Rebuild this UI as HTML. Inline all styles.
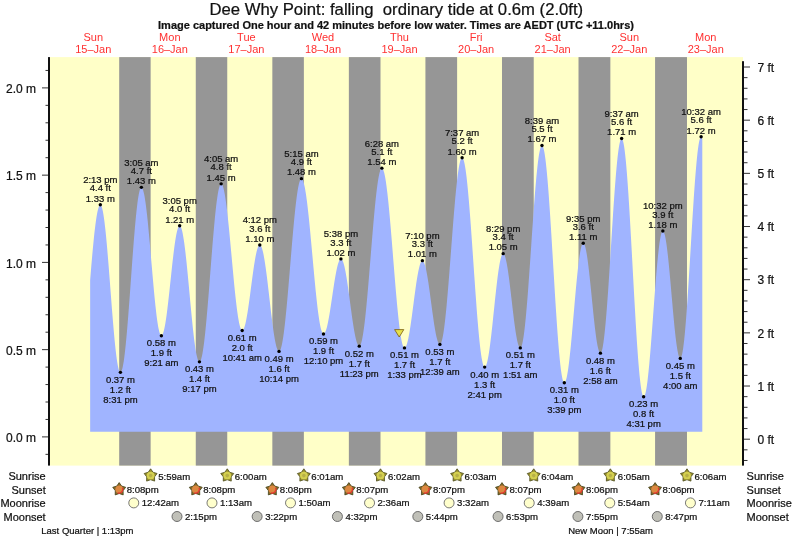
<!DOCTYPE html><html><head><meta charset="utf-8"><style>html,body{margin:0;padding:0;background:#fff;width:793px;height:539px;overflow:hidden}svg{display:block;will-change:transform}text{font-family:"Liberation Sans",sans-serif;fill:#111;stroke:#111;stroke-width:0.22px}</style></head><body>
<svg width="793" height="539" viewBox="0 0 793 539">
<text x="396.3" y="14.8" font-size="16.7" text-anchor="middle">Dee Why Point: falling &#160;ordinary tide at 0.6m (2.0ft)</text>
<text x="396" y="28.6" font-size="11" font-weight="bold" text-anchor="middle">Image captured One hour and 42 minutes before low water. Times are AEDT (UTC +11.0hrs)</text>
<rect x="50" y="57.1" width="693" height="408.5" fill="#ffffc8"/>
<rect x="119.20" y="57.1" width="31.43" height="408.5" fill="#969696"/>
<rect x="195.77" y="57.1" width="31.48" height="408.5" fill="#969696"/>
<rect x="272.34" y="57.1" width="31.53" height="408.5" fill="#969696"/>
<rect x="348.86" y="57.1" width="31.64" height="408.5" fill="#969696"/>
<rect x="425.42" y="57.1" width="31.69" height="408.5" fill="#969696"/>
<rect x="501.99" y="57.1" width="31.74" height="408.5" fill="#969696"/>
<rect x="578.51" y="57.1" width="31.85" height="408.5" fill="#969696"/>
<rect x="655.08" y="57.1" width="31.90" height="408.5" fill="#969696"/>
<polygon points="90.16,431.80 90.16,280.09 90.69,273.54 91.22,267.12 91.76,260.86 92.29,254.80 92.82,248.96 93.35,243.38 93.88,238.08 94.41,233.10 94.95,228.46 95.48,224.17 96.01,220.27 96.54,216.78 97.07,213.70 97.61,211.06 98.14,208.88 98.67,207.15 99.20,205.89 99.73,205.12 100.26,204.82 100.80,205.04 101.33,205.84 101.86,207.21 102.39,209.14 102.92,211.62 103.46,214.64 103.99,218.16 104.52,222.17 105.05,226.64 105.58,231.53 106.11,236.82 106.65,242.47 107.18,248.43 107.71,254.68 108.24,261.15 108.77,267.82 109.31,274.63 109.84,281.53 110.37,288.49 110.90,295.44 111.43,302.35 111.96,309.16 112.50,315.83 113.03,322.32 113.56,328.57 114.09,334.54 114.62,340.19 115.16,345.49 115.69,350.40 116.22,354.88 116.75,358.90 117.28,362.43 117.82,365.46 118.35,367.95 118.88,369.90 119.41,371.28 119.94,372.10 120.47,372.33 121.01,371.98 121.54,371.05 122.07,369.54 122.60,367.46 123.13,364.81 123.67,361.63 124.20,357.93 124.73,353.74 125.26,349.07 125.79,343.97 126.32,338.45 126.86,332.56 127.39,326.34 127.92,319.83 128.45,313.05 128.98,306.07 129.52,298.92 130.05,291.65 130.58,284.31 131.11,276.93 131.64,269.58 132.17,262.29 132.71,255.11 133.24,248.09 133.77,241.27 134.30,234.70 134.83,228.41 135.37,222.45 135.90,216.86 136.43,211.66 136.96,206.90 137.49,202.60 138.02,198.80 138.56,195.51 139.09,192.75 139.62,190.55 140.15,188.92 140.68,187.86 141.22,187.39 141.75,187.49 142.28,188.11 142.81,189.24 143.34,190.88 143.87,193.01 144.41,195.62 144.94,198.69 145.47,202.19 146.00,206.12 146.53,210.42 147.07,215.09 147.60,220.08 148.13,225.35 148.66,230.88 149.19,236.63 149.73,242.55 150.26,248.60 150.79,254.74 151.32,260.93 151.85,267.12 152.38,273.27 152.92,279.34 153.45,285.29 153.98,291.07 154.51,296.65 155.04,301.98 155.58,307.02 156.11,311.75 156.64,316.13 157.17,320.13 157.70,323.72 158.23,326.88 158.77,329.58 159.30,331.80 159.83,333.53 160.36,334.76 160.89,335.48 161.43,335.69 161.96,335.41 162.49,334.68 163.02,333.49 163.55,331.87 164.08,329.82 164.62,327.36 165.15,324.51 165.68,321.30 166.21,317.74 166.74,313.88 167.28,309.75 167.81,305.37 168.34,300.78 168.87,296.03 169.40,291.15 169.93,286.18 170.47,281.17 171.00,276.16 171.53,271.18 172.06,266.28 172.59,261.50 173.13,256.89 173.66,252.47 174.19,248.28 174.72,244.37 175.25,240.76 175.78,237.49 176.32,234.57 176.85,232.04 177.38,229.91 177.91,228.21 178.44,226.95 178.98,226.13 179.51,225.77 180.04,225.88 180.57,226.47 181.10,227.54 181.64,229.08 182.17,231.08 182.70,233.53 183.23,236.41 183.76,239.70 184.29,243.37 184.83,247.41 185.36,251.77 185.89,256.44 186.42,261.37 186.95,266.53 187.49,271.89 188.02,277.40 188.55,283.03 189.08,288.74 189.61,294.49 190.14,300.22 190.68,305.92 191.21,311.52 191.74,317.01 192.27,322.32 192.80,327.43 193.34,332.30 193.87,336.90 194.40,341.19 194.93,345.14 195.46,348.73 195.99,351.93 196.53,354.71 197.06,357.05 197.59,358.95 198.12,360.38 198.65,361.33 199.19,361.81 199.72,361.79 200.25,361.25 200.78,360.19 201.31,358.61 201.84,356.52 202.38,353.94 202.91,350.87 203.44,347.35 203.97,343.38 204.50,338.99 205.04,334.21 205.57,329.07 206.10,323.59 206.63,317.82 207.16,311.77 207.69,305.50 208.23,299.03 208.76,292.41 209.29,285.67 209.82,278.86 210.35,272.01 210.89,265.17 211.42,258.37 211.95,251.66 212.48,245.07 213.01,238.65 213.55,232.43 214.08,226.45 214.61,220.74 215.14,215.35 215.67,210.29 216.20,205.61 216.74,201.33 217.27,197.47 217.80,194.05 218.33,191.11 218.86,188.65 219.40,186.68 219.93,185.23 220.46,184.30 220.99,183.89 221.52,184.00 222.05,184.56 222.59,185.59 223.12,187.06 223.65,188.98 224.18,191.32 224.71,194.08 225.25,197.23 225.78,200.77 226.31,204.65 226.84,208.87 227.37,213.39 227.90,218.19 228.44,223.23 228.97,228.49 229.50,233.92 230.03,239.51 230.56,245.20 231.10,250.97 231.63,256.78 232.16,262.59 232.69,268.36 233.22,274.07 233.75,279.67 234.29,285.13 234.82,290.41 235.35,295.48 235.88,300.31 236.41,304.87 236.95,309.13 237.48,313.07 238.01,316.65 238.54,319.85 239.07,322.67 239.60,325.07 240.14,327.04 240.67,328.57 241.20,329.66 241.73,330.28 242.26,330.45 242.80,330.21 243.33,329.58 243.86,328.57 244.39,327.20 244.92,325.47 245.46,323.40 245.99,321.01 246.52,318.32 247.05,315.35 247.58,312.14 248.11,308.70 248.65,305.08 249.18,301.30 249.71,297.40 250.24,293.40 250.77,289.36 251.31,285.31 251.84,281.27 252.37,277.29 252.90,273.41 253.43,269.65 253.96,266.06 254.50,262.66 255.03,259.49 255.56,256.57 256.09,253.94 256.62,251.60 257.16,249.59 257.69,247.93 258.22,246.62 258.75,245.68 259.28,245.13 259.81,244.95 260.35,245.17 260.88,245.79 261.41,246.80 261.94,248.20 262.47,249.97 263.01,252.11 263.54,254.59 264.07,257.41 264.60,260.53 265.13,263.93 265.66,267.59 266.20,271.48 266.73,275.57 267.26,279.84 267.79,284.24 268.32,288.74 268.86,293.32 269.39,297.93 269.92,302.55 270.45,307.13 270.98,311.64 271.51,316.06 272.05,320.33 272.58,324.45 273.11,328.36 273.64,332.05 274.17,335.48 274.71,338.63 275.24,341.47 275.77,343.99 276.30,346.17 276.83,347.98 277.37,349.42 277.90,350.47 278.43,351.13 278.96,351.39 279.49,351.22 280.02,350.57 280.56,349.45 281.09,347.85 281.62,345.79 282.15,343.29 282.68,340.35 283.22,336.98 283.75,333.22 284.28,329.08 284.81,324.58 285.34,319.75 285.87,314.61 286.41,309.20 286.94,303.55 287.47,297.67 288.00,291.62 288.53,285.42 289.07,279.10 289.60,272.71 290.13,266.27 290.66,259.83 291.19,253.41 291.72,247.06 292.26,240.81 292.79,234.70 293.32,228.75 293.85,223.00 294.38,217.49 294.92,212.25 295.45,207.30 295.98,202.66 296.51,198.38 297.04,194.47 297.57,190.95 298.11,187.84 298.64,185.16 299.17,182.93 299.70,181.15 300.23,179.84 300.77,179.01 301.30,178.65 301.83,178.77 302.36,179.33 302.89,180.33 303.42,181.77 303.96,183.63 304.49,185.91 305.02,188.59 305.55,191.66 306.08,195.10 306.62,198.89 307.15,203.02 307.68,207.44 308.21,212.15 308.74,217.11 309.28,222.29 309.81,227.67 310.34,233.21 310.87,238.89 311.40,244.66 311.93,250.50 312.47,256.37 313.00,262.25 313.53,268.09 314.06,273.86 314.59,279.53 315.13,285.07 315.66,290.44 316.19,295.62 316.72,300.57 317.25,305.27 317.78,309.69 318.32,313.80 318.85,317.58 319.38,321.01 319.91,324.07 320.44,326.75 320.98,329.01 321.51,330.87 322.04,332.29 322.57,333.28 323.10,333.83 323.63,333.93 324.17,333.67 324.70,333.06 325.23,332.12 325.76,330.85 326.29,329.27 326.83,327.38 327.36,325.21 327.89,322.78 328.42,320.10 328.95,317.21 329.48,314.13 330.02,310.88 330.55,307.50 331.08,304.03 331.61,300.48 332.14,296.89 332.68,293.30 333.21,289.74 333.74,286.24 334.27,282.83 334.80,279.55 335.33,276.42 335.87,273.48 336.40,270.74 336.93,268.24 337.46,266.00 337.99,264.04 338.53,262.38 339.06,261.03 339.59,260.00 340.12,259.31 340.65,258.96 341.19,258.95 341.72,259.30 342.25,260.01 342.78,261.08 343.31,262.48 343.84,264.22 344.38,266.28 344.91,268.64 345.44,271.27 345.97,274.17 346.50,277.30 347.04,280.64 347.57,284.17 348.10,287.84 348.63,291.64 349.16,295.53 349.69,299.47 350.23,303.44 350.76,307.40 351.29,311.33 351.82,315.18 352.35,318.92 352.89,322.53 353.42,325.98 353.95,329.22 354.48,332.25 355.01,335.03 355.54,337.55 356.08,339.77 356.61,341.68 357.14,343.27 357.67,344.52 358.20,345.42 358.74,345.97 359.27,346.16 359.80,345.93 360.33,345.21 360.86,344.01 361.39,342.33 361.93,340.19 362.46,337.60 362.99,334.56 363.52,331.11 364.05,327.25 364.59,323.01 365.12,318.40 365.65,313.47 366.18,308.22 366.71,302.70 367.24,296.92 367.78,290.93 368.31,284.76 368.84,278.43 369.37,271.99 369.90,265.47 370.44,258.90 370.97,252.33 371.50,245.77 372.03,239.29 372.56,232.89 373.10,226.64 373.63,220.54 374.16,214.65 374.69,208.99 375.22,203.60 375.75,198.50 376.29,193.71 376.82,189.28 377.35,185.21 377.88,181.54 378.41,178.28 378.95,175.45 379.48,173.07 380.01,171.15 380.54,169.70 381.07,168.72 381.60,168.23 382.14,168.23 382.67,168.71 383.20,169.69 383.73,171.15 384.26,173.08 384.80,175.47 385.33,178.32 385.86,181.60 386.39,185.30 386.92,189.40 387.45,193.87 387.99,198.69 388.52,203.84 389.05,209.28 389.58,214.99 390.11,220.94 390.65,227.09 391.18,233.40 391.71,239.86 392.24,246.41 392.77,253.02 393.30,259.66 393.84,266.29 394.37,272.88 394.90,279.39 395.43,285.78 395.96,292.02 396.50,298.07 397.03,303.90 397.56,309.49 398.09,314.79 398.62,319.78 399.15,324.44 399.69,328.73 400.22,332.63 400.75,336.13 401.28,339.20 401.81,341.83 402.35,344.00 402.88,345.70 403.41,346.92 403.94,347.66 404.47,347.90 405.01,347.72 405.54,347.15 406.07,346.21 406.60,344.91 407.13,343.25 407.66,341.26 408.20,338.94 408.73,336.32 409.26,333.43 409.79,330.28 410.32,326.91 410.86,323.33 411.39,319.60 411.92,315.73 412.45,311.76 412.98,307.73 413.51,303.66 414.05,299.60 414.58,295.58 415.11,291.64 415.64,287.81 416.17,284.12 416.71,280.61 417.24,277.30 417.77,274.22 418.30,271.41 418.83,268.88 419.36,266.66 419.90,264.77 420.43,263.22 420.96,262.02 421.49,261.20 422.02,260.75 422.56,260.67 423.09,260.98 423.62,261.67 424.15,262.72 424.68,264.15 425.21,265.92 425.75,268.02 426.28,270.44 426.81,273.15 427.34,276.13 427.87,279.36 428.41,282.79 428.94,286.40 429.47,290.16 430.00,294.03 430.53,297.98 431.06,301.97 431.60,305.97 432.13,309.93 432.66,313.83 433.19,317.62 433.72,321.28 434.26,324.77 434.79,328.05 435.32,331.10 435.85,333.89 436.38,336.39 436.92,338.59 437.45,340.46 437.98,341.98 438.51,343.14 439.04,343.93 439.57,344.35 440.11,344.37 440.64,343.89 441.17,342.88 441.70,341.36 442.23,339.33 442.77,336.79 443.30,333.78 443.83,330.29 444.36,326.36 444.89,322.01 445.42,317.25 445.96,312.12 446.49,306.64 447.02,300.85 447.55,294.78 448.08,288.46 448.62,281.93 449.15,275.23 449.68,268.39 450.21,261.45 450.74,254.45 451.27,247.44 451.81,240.44 452.34,233.50 452.87,226.67 453.40,219.97 453.93,213.44 454.47,207.13 455.00,201.07 455.53,195.29 456.06,189.82 456.59,184.71 457.12,179.96 457.66,175.62 458.19,171.70 458.72,168.23 459.25,165.23 459.78,162.71 460.32,160.70 460.85,159.19 461.38,158.20 461.91,157.74 462.44,157.81 462.97,158.45 463.51,159.67 464.04,161.45 464.57,163.78 465.10,166.65 465.63,170.05 466.17,173.96 466.70,178.35 467.23,183.20 467.76,188.49 468.29,194.18 468.83,200.25 469.36,206.66 469.89,213.38 470.42,220.36 470.95,227.58 471.48,234.98 472.02,242.54 472.55,250.20 473.08,257.94 473.61,265.70 474.14,273.43 474.68,281.11 475.21,288.69 475.74,296.12 476.27,303.37 476.80,310.39 477.33,317.15 477.87,323.60 478.40,329.73 478.93,335.48 479.46,340.83 479.99,345.75 480.53,350.21 481.06,354.19 481.59,357.67 482.12,360.62 482.65,363.04 483.18,364.90 483.72,366.20 484.25,366.93 484.78,367.09 485.31,366.75 485.84,365.96 486.38,364.71 486.91,363.02 487.44,360.90 487.97,358.36 488.50,355.44 489.03,352.15 489.57,348.52 490.10,344.58 490.63,340.36 491.16,335.90 491.69,331.23 492.23,326.39 492.76,321.42 493.29,316.35 493.82,311.25 494.35,306.13 494.88,301.05 495.42,296.04 495.95,291.15 496.48,286.42 497.01,281.88 497.54,277.58 498.08,273.54 498.61,269.80 499.14,266.40 499.67,263.35 500.20,260.68 500.74,258.42 501.27,256.59 501.80,255.19 502.33,254.24 502.86,253.75 503.39,253.72 503.93,254.14 504.46,255.00 504.99,256.30 505.52,258.02 506.05,260.15 506.59,262.67 507.12,265.54 507.65,268.76 508.18,272.28 508.71,276.07 509.24,280.09 509.78,284.31 510.31,288.69 510.84,293.19 511.37,297.75 511.90,302.35 512.44,306.93 512.97,311.45 513.50,315.87 514.03,320.15 514.56,324.24 515.09,328.11 515.63,331.72 516.16,335.04 516.69,338.03 517.22,340.66 517.75,342.92 518.29,344.77 518.82,346.21 519.35,347.21 519.88,347.78 520.41,347.89 520.94,347.44 521.48,346.40 522.01,344.77 522.54,342.55 523.07,339.77 523.60,336.43 524.14,332.56 524.67,328.19 525.20,323.33 525.73,318.02 526.26,312.28 526.79,306.15 527.33,299.68 527.86,292.88 528.39,285.82 528.92,278.52 529.45,271.03 529.99,263.40 530.52,255.67 531.05,247.89 531.58,240.10 532.11,232.35 532.65,224.68 533.18,217.15 533.71,209.79 534.24,202.65 534.77,195.77 535.30,189.19 535.84,182.95 536.37,177.09 536.90,171.64 537.43,166.64 537.96,162.12 538.50,158.09 539.03,154.59 539.56,151.63 540.09,149.24 540.62,147.43 541.15,146.20 541.69,145.58 542.22,145.55 542.75,146.18 543.28,147.47 543.81,149.42 544.35,152.00 544.88,155.22 545.41,159.04 545.94,163.45 546.47,168.42 547.00,173.93 547.54,179.94 548.07,186.43 548.60,193.35 549.13,200.66 549.66,208.33 550.20,216.32 550.73,224.57 551.26,233.04 551.79,241.69 552.32,250.46 552.85,259.31 553.39,268.18 553.92,277.04 554.45,285.82 554.98,294.48 555.51,302.97 556.05,311.24 556.58,319.25 557.11,326.95 557.64,334.30 558.17,341.25 558.70,347.78 559.24,353.84 559.77,359.39 560.30,364.42 560.83,368.88 561.36,372.75 561.90,376.02 562.43,378.67 562.96,380.67 563.49,382.02 564.02,382.71 564.56,382.75 565.09,382.23 565.62,381.17 566.15,379.58 566.68,377.47 567.21,374.86 567.75,371.77 568.28,368.22 568.81,364.24 569.34,359.86 569.87,355.12 570.41,350.04 570.94,344.68 571.47,339.08 572.00,333.27 572.53,327.30 573.06,321.23 573.60,315.08 574.13,308.92 574.66,302.80 575.19,296.75 575.72,290.83 576.26,285.08 576.79,279.55 577.32,274.28 577.85,269.31 578.38,264.69 578.91,260.43 579.45,256.59 579.98,253.19 580.51,250.25 581.04,247.80 581.57,245.86 582.11,244.44 582.64,243.55 583.17,243.21 583.70,243.40 584.23,244.11 584.76,245.33 585.30,247.05 585.83,249.25 586.36,251.92 586.89,255.02 587.42,258.53 587.96,262.42 588.49,266.64 589.02,271.16 589.55,275.94 590.08,280.93 590.61,286.08 591.15,291.34 591.68,296.67 592.21,302.02 592.74,307.32 593.27,312.55 593.81,317.63 594.34,322.53 594.87,327.20 595.40,331.60 595.93,335.68 596.47,339.41 597.00,342.74 597.53,345.65 598.06,348.12 598.59,350.11 599.12,351.61 599.66,352.61 600.19,353.09 600.72,353.03 601.25,352.32 601.78,350.94 602.32,348.92 602.85,346.26 603.38,342.97 603.91,339.08 604.44,334.61 604.97,329.60 605.51,324.06 606.04,318.04 606.57,311.57 607.10,304.69 607.63,297.45 608.17,289.89 608.70,282.06 609.23,274.00 609.76,265.76 610.29,257.41 610.82,248.98 611.36,240.53 611.89,232.11 612.42,223.78 612.95,215.59 613.48,207.58 614.02,199.81 614.55,192.32 615.08,185.17 615.61,178.39 616.14,172.03 616.67,166.13 617.21,160.73 617.74,155.84 618.27,151.52 618.80,147.78 619.33,144.65 619.87,142.15 620.40,140.29 620.93,139.08 621.46,138.54 621.99,138.68 622.52,139.55 623.06,141.17 623.59,143.51 624.12,146.57 624.65,150.32 625.18,154.75 625.72,159.83 626.25,165.53 626.78,171.82 627.31,178.66 627.84,186.01 628.38,193.84 628.91,202.08 629.44,210.71 629.97,219.66 630.50,228.89 631.03,238.34 631.57,247.96 632.10,257.70 632.63,267.49 633.16,277.28 633.69,287.02 634.23,296.64 634.76,306.10 635.29,315.33 635.82,324.30 636.35,332.93 636.88,341.19 637.42,349.03 637.95,356.39 638.48,363.25 639.01,369.56 639.54,375.27 640.08,380.37 640.61,384.82 641.14,388.60 641.67,391.68 642.20,394.04 642.73,395.68 643.27,396.58 643.80,396.74 644.33,396.24 644.86,395.13 645.39,393.39 645.93,391.06 646.46,388.14 646.99,384.65 647.52,380.63 648.05,376.11 648.58,371.12 649.12,365.69 649.65,359.87 650.18,353.70 650.71,347.23 651.24,340.50 651.78,333.58 652.31,326.51 652.84,319.34 653.37,312.13 653.90,304.93 654.43,297.80 654.97,290.79 655.50,283.96 656.03,277.35 656.56,271.02 657.09,265.02 657.63,259.38 658.16,254.16 658.69,249.39 659.22,245.10 659.75,241.34 660.29,238.13 660.82,235.49 661.35,233.45 661.88,232.01 662.41,231.19 662.94,231.00 663.48,231.41 664.01,232.39 664.54,233.95 665.07,236.07 665.60,238.72 666.14,241.89 666.67,245.54 667.20,249.64 667.73,254.15 668.26,259.04 668.79,264.25 669.33,269.74 669.86,275.46 670.39,281.36 670.92,287.37 671.45,293.46 671.99,299.56 672.52,305.61 673.05,311.56 673.58,317.36 674.11,322.95 674.64,328.28 675.18,333.30 675.71,337.97 676.24,342.24 676.77,346.07 677.30,349.44 677.84,352.30 678.37,354.63 678.90,356.41 679.43,357.63 679.96,358.27 680.49,358.32 681.03,357.68 681.56,356.33 682.09,354.28 682.62,351.55 683.15,348.14 683.69,344.10 684.22,339.43 684.75,334.17 685.28,328.36 685.81,322.03 686.34,315.22 686.88,307.98 687.41,300.34 687.94,292.37 688.47,284.11 689.00,275.62 689.54,266.95 690.07,258.15 690.60,249.28 691.13,240.41 691.66,231.58 692.20,222.85 692.73,214.28 693.26,205.92 693.79,197.83 694.32,190.06 694.85,182.66 695.39,175.68 695.92,169.16 696.45,163.14 696.98,157.67 697.51,152.77 698.05,148.48 698.58,144.83 699.11,141.83 699.64,139.52 700.17,137.90 700.70,136.98 701.24,136.78 701.77,137.41 702.30,138.92 702.30,431.80" fill="#a0b4ff"/>
<rect x="48" y="57.1" width="2" height="408.5" fill="#111"/>
<rect x="742" y="61.2" width="2" height="404.40000000000003" fill="#111"/>
<line x1="45.5" y1="454.35" x2="48" y2="454.35" stroke="#333" stroke-width="1"/>
<line x1="42" y1="436.90" x2="48" y2="436.90" stroke="#333" stroke-width="1"/>
<text x="36.1" y="442.00" font-size="12" text-anchor="end">0.0 m</text>
<line x1="45.5" y1="419.45" x2="48" y2="419.45" stroke="#333" stroke-width="1"/>
<line x1="45.5" y1="402.00" x2="48" y2="402.00" stroke="#333" stroke-width="1"/>
<line x1="45.5" y1="384.55" x2="48" y2="384.55" stroke="#333" stroke-width="1"/>
<line x1="45.5" y1="367.10" x2="48" y2="367.10" stroke="#333" stroke-width="1"/>
<line x1="42" y1="349.65" x2="48" y2="349.65" stroke="#333" stroke-width="1"/>
<text x="36.1" y="354.75" font-size="12" text-anchor="end">0.5 m</text>
<line x1="45.5" y1="332.20" x2="48" y2="332.20" stroke="#333" stroke-width="1"/>
<line x1="45.5" y1="314.75" x2="48" y2="314.75" stroke="#333" stroke-width="1"/>
<line x1="45.5" y1="297.30" x2="48" y2="297.30" stroke="#333" stroke-width="1"/>
<line x1="45.5" y1="279.85" x2="48" y2="279.85" stroke="#333" stroke-width="1"/>
<line x1="42" y1="262.40" x2="48" y2="262.40" stroke="#333" stroke-width="1"/>
<text x="36.1" y="267.50" font-size="12" text-anchor="end">1.0 m</text>
<line x1="45.5" y1="244.95" x2="48" y2="244.95" stroke="#333" stroke-width="1"/>
<line x1="45.5" y1="227.50" x2="48" y2="227.50" stroke="#333" stroke-width="1"/>
<line x1="45.5" y1="210.05" x2="48" y2="210.05" stroke="#333" stroke-width="1"/>
<line x1="45.5" y1="192.60" x2="48" y2="192.60" stroke="#333" stroke-width="1"/>
<line x1="42" y1="175.15" x2="48" y2="175.15" stroke="#333" stroke-width="1"/>
<text x="36.1" y="180.25" font-size="12" text-anchor="end">1.5 m</text>
<line x1="45.5" y1="157.70" x2="48" y2="157.70" stroke="#333" stroke-width="1"/>
<line x1="45.5" y1="140.25" x2="48" y2="140.25" stroke="#333" stroke-width="1"/>
<line x1="45.5" y1="122.80" x2="48" y2="122.80" stroke="#333" stroke-width="1"/>
<line x1="45.5" y1="105.35" x2="48" y2="105.35" stroke="#333" stroke-width="1"/>
<line x1="42" y1="87.90" x2="48" y2="87.90" stroke="#333" stroke-width="1"/>
<text x="36.1" y="93.00" font-size="12" text-anchor="end">2.0 m</text>
<line x1="45.5" y1="70.45" x2="48" y2="70.45" stroke="#333" stroke-width="1"/>
<line x1="744" y1="460.47" x2="747.5" y2="460.47" stroke="#333" stroke-width="1"/>
<line x1="744" y1="449.83" x2="747.5" y2="449.83" stroke="#333" stroke-width="1"/>
<line x1="744" y1="439.20" x2="750" y2="439.20" stroke="#333" stroke-width="1"/>
<text x="757.5" y="443.90" font-size="12">0 ft</text>
<line x1="744" y1="428.57" x2="747.5" y2="428.57" stroke="#333" stroke-width="1"/>
<line x1="744" y1="417.93" x2="747.5" y2="417.93" stroke="#333" stroke-width="1"/>
<line x1="744" y1="407.30" x2="747.5" y2="407.30" stroke="#333" stroke-width="1"/>
<line x1="744" y1="396.66" x2="747.5" y2="396.66" stroke="#333" stroke-width="1"/>
<line x1="744" y1="386.03" x2="750" y2="386.03" stroke="#333" stroke-width="1"/>
<text x="757.5" y="390.73" font-size="12">1 ft</text>
<line x1="744" y1="375.40" x2="747.5" y2="375.40" stroke="#333" stroke-width="1"/>
<line x1="744" y1="364.76" x2="747.5" y2="364.76" stroke="#333" stroke-width="1"/>
<line x1="744" y1="354.13" x2="747.5" y2="354.13" stroke="#333" stroke-width="1"/>
<line x1="744" y1="343.49" x2="747.5" y2="343.49" stroke="#333" stroke-width="1"/>
<line x1="744" y1="332.86" x2="750" y2="332.86" stroke="#333" stroke-width="1"/>
<text x="757.5" y="337.56" font-size="12">2 ft</text>
<line x1="744" y1="322.23" x2="747.5" y2="322.23" stroke="#333" stroke-width="1"/>
<line x1="744" y1="311.59" x2="747.5" y2="311.59" stroke="#333" stroke-width="1"/>
<line x1="744" y1="300.96" x2="747.5" y2="300.96" stroke="#333" stroke-width="1"/>
<line x1="744" y1="290.32" x2="747.5" y2="290.32" stroke="#333" stroke-width="1"/>
<line x1="744" y1="279.69" x2="750" y2="279.69" stroke="#333" stroke-width="1"/>
<text x="757.5" y="284.39" font-size="12">3 ft</text>
<line x1="744" y1="269.06" x2="747.5" y2="269.06" stroke="#333" stroke-width="1"/>
<line x1="744" y1="258.42" x2="747.5" y2="258.42" stroke="#333" stroke-width="1"/>
<line x1="744" y1="247.79" x2="747.5" y2="247.79" stroke="#333" stroke-width="1"/>
<line x1="744" y1="237.15" x2="747.5" y2="237.15" stroke="#333" stroke-width="1"/>
<line x1="744" y1="226.52" x2="750" y2="226.52" stroke="#333" stroke-width="1"/>
<text x="757.5" y="231.22" font-size="12">4 ft</text>
<line x1="744" y1="215.89" x2="747.5" y2="215.89" stroke="#333" stroke-width="1"/>
<line x1="744" y1="205.25" x2="747.5" y2="205.25" stroke="#333" stroke-width="1"/>
<line x1="744" y1="194.62" x2="747.5" y2="194.62" stroke="#333" stroke-width="1"/>
<line x1="744" y1="183.98" x2="747.5" y2="183.98" stroke="#333" stroke-width="1"/>
<line x1="744" y1="173.35" x2="750" y2="173.35" stroke="#333" stroke-width="1"/>
<text x="757.5" y="178.05" font-size="12">5 ft</text>
<line x1="744" y1="162.72" x2="747.5" y2="162.72" stroke="#333" stroke-width="1"/>
<line x1="744" y1="152.08" x2="747.5" y2="152.08" stroke="#333" stroke-width="1"/>
<line x1="744" y1="141.45" x2="747.5" y2="141.45" stroke="#333" stroke-width="1"/>
<line x1="744" y1="130.81" x2="747.5" y2="130.81" stroke="#333" stroke-width="1"/>
<line x1="744" y1="120.18" x2="750" y2="120.18" stroke="#333" stroke-width="1"/>
<text x="757.5" y="124.88" font-size="12">6 ft</text>
<line x1="744" y1="109.55" x2="747.5" y2="109.55" stroke="#333" stroke-width="1"/>
<line x1="744" y1="98.91" x2="747.5" y2="98.91" stroke="#333" stroke-width="1"/>
<line x1="744" y1="88.28" x2="747.5" y2="88.28" stroke="#333" stroke-width="1"/>
<line x1="744" y1="77.64" x2="747.5" y2="77.64" stroke="#333" stroke-width="1"/>
<line x1="744" y1="67.01" x2="750" y2="67.01" stroke="#333" stroke-width="1"/>
<text x="757.5" y="71.71" font-size="12">7 ft</text>
<text x="93.25" y="41.1" font-size="11" fill="#ff3030" style="fill:#ff3030;stroke:none" text-anchor="middle">Sun</text>
<text x="93.25" y="52.7" font-size="11" fill="#ff3030" style="fill:#ff3030;stroke:none" text-anchor="middle">15–Jan</text>
<text x="169.82" y="41.1" font-size="11" fill="#ff3030" style="fill:#ff3030;stroke:none" text-anchor="middle">Mon</text>
<text x="169.82" y="52.7" font-size="11" fill="#ff3030" style="fill:#ff3030;stroke:none" text-anchor="middle">16–Jan</text>
<text x="246.39" y="41.1" font-size="11" fill="#ff3030" style="fill:#ff3030;stroke:none" text-anchor="middle">Tue</text>
<text x="246.39" y="52.7" font-size="11" fill="#ff3030" style="fill:#ff3030;stroke:none" text-anchor="middle">17–Jan</text>
<text x="322.96" y="41.1" font-size="11" fill="#ff3030" style="fill:#ff3030;stroke:none" text-anchor="middle">Wed</text>
<text x="322.96" y="52.7" font-size="11" fill="#ff3030" style="fill:#ff3030;stroke:none" text-anchor="middle">18–Jan</text>
<text x="399.53" y="41.1" font-size="11" fill="#ff3030" style="fill:#ff3030;stroke:none" text-anchor="middle">Thu</text>
<text x="399.53" y="52.7" font-size="11" fill="#ff3030" style="fill:#ff3030;stroke:none" text-anchor="middle">19–Jan</text>
<text x="476.10" y="41.1" font-size="11" fill="#ff3030" style="fill:#ff3030;stroke:none" text-anchor="middle">Fri</text>
<text x="476.10" y="52.7" font-size="11" fill="#ff3030" style="fill:#ff3030;stroke:none" text-anchor="middle">20–Jan</text>
<text x="552.67" y="41.1" font-size="11" fill="#ff3030" style="fill:#ff3030;stroke:none" text-anchor="middle">Sat</text>
<text x="552.67" y="52.7" font-size="11" fill="#ff3030" style="fill:#ff3030;stroke:none" text-anchor="middle">21–Jan</text>
<text x="629.23" y="41.1" font-size="11" fill="#ff3030" style="fill:#ff3030;stroke:none" text-anchor="middle">Sun</text>
<text x="629.23" y="52.7" font-size="11" fill="#ff3030" style="fill:#ff3030;stroke:none" text-anchor="middle">22–Jan</text>
<text x="705.80" y="41.1" font-size="11" fill="#ff3030" style="fill:#ff3030;stroke:none" text-anchor="middle">Mon</text>
<text x="705.80" y="52.7" font-size="11" fill="#ff3030" style="fill:#ff3030;stroke:none" text-anchor="middle">23–Jan</text>
<text x="100.33" y="183.31" font-size="9.5" text-anchor="middle">2:13 pm</text>
<text x="100.33" y="191.41" font-size="9.5" text-anchor="middle">4.4 ft</text>
<text x="100.33" y="201.61" font-size="9.5" text-anchor="middle">1.33 m</text>
<circle cx="100.33" cy="204.81" r="1.7" fill="#000"/>
<text x="120.43" y="382.73" font-size="9.5" text-anchor="middle">0.37 m</text>
<text x="120.43" y="392.73" font-size="9.5" text-anchor="middle">1.2 ft</text>
<text x="120.43" y="402.73" font-size="9.5" text-anchor="middle">8:31 pm</text>
<circle cx="120.43" cy="372.33" r="1.7" fill="#000"/>
<text x="141.38" y="165.86" font-size="9.5" text-anchor="middle">3:05 am</text>
<text x="141.38" y="173.96" font-size="9.5" text-anchor="middle">4.7 ft</text>
<text x="141.38" y="184.16" font-size="9.5" text-anchor="middle">1.43 m</text>
<circle cx="141.38" cy="187.36" r="1.7" fill="#000"/>
<text x="161.37" y="346.09" font-size="9.5" text-anchor="middle">0.58 m</text>
<text x="161.37" y="356.09" font-size="9.5" text-anchor="middle">1.9 ft</text>
<text x="161.37" y="366.09" font-size="9.5" text-anchor="middle">9:21 am</text>
<circle cx="161.37" cy="335.69" r="1.7" fill="#000"/>
<text x="179.66" y="204.25" font-size="9.5" text-anchor="middle">3:05 pm</text>
<text x="179.66" y="212.35" font-size="9.5" text-anchor="middle">4.0 ft</text>
<text x="179.66" y="222.56" font-size="9.5" text-anchor="middle">1.21 m</text>
<circle cx="179.66" cy="225.75" r="1.7" fill="#000"/>
<text x="199.44" y="372.26" font-size="9.5" text-anchor="middle">0.43 m</text>
<text x="199.44" y="382.26" font-size="9.5" text-anchor="middle">1.4 ft</text>
<text x="199.44" y="392.26" font-size="9.5" text-anchor="middle">9:17 pm</text>
<circle cx="199.44" cy="361.87" r="1.7" fill="#000"/>
<text x="221.13" y="162.37" font-size="9.5" text-anchor="middle">4:05 am</text>
<text x="221.13" y="170.47" font-size="9.5" text-anchor="middle">4.8 ft</text>
<text x="221.13" y="180.67" font-size="9.5" text-anchor="middle">1.45 m</text>
<circle cx="221.13" cy="183.87" r="1.7" fill="#000"/>
<text x="242.19" y="340.85" font-size="9.5" text-anchor="middle">0.61 m</text>
<text x="242.19" y="350.85" font-size="9.5" text-anchor="middle">2.0 ft</text>
<text x="242.19" y="360.85" font-size="9.5" text-anchor="middle">10:41 am</text>
<circle cx="242.19" cy="330.45" r="1.7" fill="#000"/>
<text x="259.79" y="223.45" font-size="9.5" text-anchor="middle">4:12 pm</text>
<text x="259.79" y="231.55" font-size="9.5" text-anchor="middle">3.6 ft</text>
<text x="259.79" y="241.75" font-size="9.5" text-anchor="middle">1.10 m</text>
<circle cx="259.79" cy="244.95" r="1.7" fill="#000"/>
<text x="279.04" y="361.79" font-size="9.5" text-anchor="middle">0.49 m</text>
<text x="279.04" y="371.79" font-size="9.5" text-anchor="middle">1.6 ft</text>
<text x="279.04" y="381.79" font-size="9.5" text-anchor="middle">10:14 pm</text>
<circle cx="279.04" cy="351.39" r="1.7" fill="#000"/>
<text x="301.43" y="157.14" font-size="9.5" text-anchor="middle">5:15 am</text>
<text x="301.43" y="165.24" font-size="9.5" text-anchor="middle">4.9 ft</text>
<text x="301.43" y="175.44" font-size="9.5" text-anchor="middle">1.48 m</text>
<circle cx="301.43" cy="178.64" r="1.7" fill="#000"/>
<text x="323.49" y="344.34" font-size="9.5" text-anchor="middle">0.59 m</text>
<text x="323.49" y="354.34" font-size="9.5" text-anchor="middle">1.9 ft</text>
<text x="323.49" y="364.34" font-size="9.5" text-anchor="middle">12:10 pm</text>
<circle cx="323.49" cy="333.94" r="1.7" fill="#000"/>
<text x="340.93" y="237.41" font-size="9.5" text-anchor="middle">5:38 pm</text>
<text x="340.93" y="245.51" font-size="9.5" text-anchor="middle">3.3 ft</text>
<text x="340.93" y="255.71" font-size="9.5" text-anchor="middle">1.02 m</text>
<circle cx="340.93" cy="258.91" r="1.7" fill="#000"/>
<text x="359.28" y="356.56" font-size="9.5" text-anchor="middle">0.52 m</text>
<text x="359.28" y="366.56" font-size="9.5" text-anchor="middle">1.7 ft</text>
<text x="359.28" y="376.56" font-size="9.5" text-anchor="middle">11:23 pm</text>
<circle cx="359.28" cy="346.16" r="1.7" fill="#000"/>
<text x="381.88" y="146.67" font-size="9.5" text-anchor="middle">6:28 am</text>
<text x="381.88" y="154.77" font-size="9.5" text-anchor="middle">5.1 ft</text>
<text x="381.88" y="164.97" font-size="9.5" text-anchor="middle">1.54 m</text>
<circle cx="381.88" cy="168.17" r="1.7" fill="#000"/>
<text x="404.47" y="358.30" font-size="9.5" text-anchor="middle">0.51 m</text>
<text x="404.47" y="368.30" font-size="9.5" text-anchor="middle">1.7 ft</text>
<text x="404.47" y="378.30" font-size="9.5" text-anchor="middle">1:33 pm</text>
<circle cx="404.47" cy="347.90" r="1.7" fill="#000"/>
<text x="422.39" y="239.15" font-size="9.5" text-anchor="middle">7:10 pm</text>
<text x="422.39" y="247.25" font-size="9.5" text-anchor="middle">3.3 ft</text>
<text x="422.39" y="257.45" font-size="9.5" text-anchor="middle">1.01 m</text>
<circle cx="422.39" cy="260.65" r="1.7" fill="#000"/>
<text x="439.89" y="354.81" font-size="9.5" text-anchor="middle">0.53 m</text>
<text x="439.89" y="364.81" font-size="9.5" text-anchor="middle">1.7 ft</text>
<text x="439.89" y="374.81" font-size="9.5" text-anchor="middle">12:39 am</text>
<circle cx="439.89" cy="344.41" r="1.7" fill="#000"/>
<text x="462.11" y="136.20" font-size="9.5" text-anchor="middle">7:37 am</text>
<text x="462.11" y="144.30" font-size="9.5" text-anchor="middle">5.2 ft</text>
<text x="462.11" y="154.50" font-size="9.5" text-anchor="middle">1.60 m</text>
<circle cx="462.11" cy="157.70" r="1.7" fill="#000"/>
<text x="484.66" y="377.50" font-size="9.5" text-anchor="middle">0.40 m</text>
<text x="484.66" y="387.50" font-size="9.5" text-anchor="middle">1.3 ft</text>
<text x="484.66" y="397.50" font-size="9.5" text-anchor="middle">2:41 pm</text>
<circle cx="484.66" cy="367.10" r="1.7" fill="#000"/>
<text x="503.16" y="232.17" font-size="9.5" text-anchor="middle">8:29 pm</text>
<text x="503.16" y="240.27" font-size="9.5" text-anchor="middle">3.4 ft</text>
<text x="503.16" y="250.47" font-size="9.5" text-anchor="middle">1.05 m</text>
<circle cx="503.16" cy="253.67" r="1.7" fill="#000"/>
<text x="520.28" y="358.30" font-size="9.5" text-anchor="middle">0.51 m</text>
<text x="520.28" y="368.30" font-size="9.5" text-anchor="middle">1.7 ft</text>
<text x="520.28" y="378.30" font-size="9.5" text-anchor="middle">1:51 am</text>
<circle cx="520.28" cy="347.90" r="1.7" fill="#000"/>
<text x="541.98" y="123.99" font-size="9.5" text-anchor="middle">8:39 am</text>
<text x="541.98" y="132.09" font-size="9.5" text-anchor="middle">5.5 ft</text>
<text x="541.98" y="142.29" font-size="9.5" text-anchor="middle">1.67 m</text>
<circle cx="541.98" cy="145.49" r="1.7" fill="#000"/>
<text x="564.31" y="393.20" font-size="9.5" text-anchor="middle">0.31 m</text>
<text x="564.31" y="403.20" font-size="9.5" text-anchor="middle">1.0 ft</text>
<text x="564.31" y="413.20" font-size="9.5" text-anchor="middle">3:39 pm</text>
<circle cx="564.31" cy="382.80" r="1.7" fill="#000"/>
<text x="583.24" y="221.70" font-size="9.5" text-anchor="middle">9:35 pm</text>
<text x="583.24" y="229.80" font-size="9.5" text-anchor="middle">3.6 ft</text>
<text x="583.24" y="240.00" font-size="9.5" text-anchor="middle">1.11 m</text>
<circle cx="583.24" cy="243.20" r="1.7" fill="#000"/>
<text x="600.42" y="363.54" font-size="9.5" text-anchor="middle">0.48 m</text>
<text x="600.42" y="373.54" font-size="9.5" text-anchor="middle">1.6 ft</text>
<text x="600.42" y="383.54" font-size="9.5" text-anchor="middle">2:58 am</text>
<circle cx="600.42" cy="353.14" r="1.7" fill="#000"/>
<text x="621.63" y="117.00" font-size="9.5" text-anchor="middle">9:37 am</text>
<text x="621.63" y="125.10" font-size="9.5" text-anchor="middle">5.6 ft</text>
<text x="621.63" y="135.31" font-size="9.5" text-anchor="middle">1.71 m</text>
<circle cx="621.63" cy="138.50" r="1.7" fill="#000"/>
<text x="643.64" y="407.16" font-size="9.5" text-anchor="middle">0.23 m</text>
<text x="643.64" y="417.16" font-size="9.5" text-anchor="middle">0.8 ft</text>
<text x="643.64" y="427.16" font-size="9.5" text-anchor="middle">4:31 pm</text>
<circle cx="643.64" cy="396.76" r="1.7" fill="#000"/>
<text x="662.84" y="209.49" font-size="9.5" text-anchor="middle">10:32 pm</text>
<text x="662.84" y="217.59" font-size="9.5" text-anchor="middle">3.9 ft</text>
<text x="662.84" y="227.79" font-size="9.5" text-anchor="middle">1.18 m</text>
<circle cx="662.84" cy="230.99" r="1.7" fill="#000"/>
<text x="680.28" y="368.77" font-size="9.5" text-anchor="middle">0.45 m</text>
<text x="680.28" y="378.77" font-size="9.5" text-anchor="middle">1.5 ft</text>
<text x="680.28" y="388.77" font-size="9.5" text-anchor="middle">4:00 am</text>
<circle cx="680.28" cy="358.38" r="1.7" fill="#000"/>
<text x="701.12" y="115.26" font-size="9.5" text-anchor="middle">10:32 am</text>
<text x="701.12" y="123.36" font-size="9.5" text-anchor="middle">5.6 ft</text>
<text x="701.12" y="133.56" font-size="9.5" text-anchor="middle">1.72 m</text>
<circle cx="701.12" cy="136.76" r="1.7" fill="#000"/>
<polygon points="394.6,329.6 403.8,329.6 399.2,337" fill="#e6e04a" stroke="#7a5a10" stroke-width="0.8"/>
<text x="45.7" y="480.1" font-size="11" text-anchor="end">Sunrise</text>
<text x="746.6" y="480.1" font-size="11">Sunrise</text>
<text x="45.7" y="493.8" font-size="11" text-anchor="end">Sunset</text>
<text x="746.6" y="493.8" font-size="11">Sunset</text>
<text x="45.7" y="507.2" font-size="11" text-anchor="end">Moonrise</text>
<text x="746.6" y="507.2" font-size="11">Moonrise</text>
<text x="45.7" y="521.1" font-size="11" text-anchor="end">Moonset</text>
<text x="746.6" y="521.1" font-size="11">Moonset</text>
<polygon points="150.63,468.80 153.04,472.28 157.09,473.50 154.53,476.87 154.62,481.10 150.63,479.70 146.63,481.10 146.73,476.87 144.16,473.50 148.22,472.28" fill="#9a9030" stroke="#4a4a18" stroke-width="0.8" stroke-linejoin="miter"/>
<circle cx="150.63" cy="475.6" r="3.9" fill="#d4d050"/>
<circle cx="150.63" cy="475.6" r="1.8" fill="#b8b048"/>
<text x="158.13" y="479.5" font-size="9.6">5:59am</text>
<polygon points="227.25,468.80 229.66,472.28 233.72,473.50 231.15,476.87 231.25,481.10 227.25,479.70 223.25,481.10 223.35,476.87 220.78,473.50 224.84,472.28" fill="#9a9030" stroke="#4a4a18" stroke-width="0.8" stroke-linejoin="miter"/>
<circle cx="227.25" cy="475.6" r="3.9" fill="#d4d050"/>
<circle cx="227.25" cy="475.6" r="1.8" fill="#b8b048"/>
<text x="234.75" y="479.5" font-size="9.6">6:00am</text>
<polygon points="303.87,468.80 306.28,472.28 310.34,473.50 307.77,476.87 307.87,481.10 303.87,479.70 299.87,481.10 299.97,476.87 297.40,473.50 301.46,472.28" fill="#9a9030" stroke="#4a4a18" stroke-width="0.8" stroke-linejoin="miter"/>
<circle cx="303.87" cy="475.6" r="3.9" fill="#d4d050"/>
<circle cx="303.87" cy="475.6" r="1.8" fill="#b8b048"/>
<text x="311.37" y="479.5" font-size="9.6">6:01am</text>
<polygon points="380.49,468.80 382.90,472.28 386.96,473.50 384.39,476.87 384.49,481.10 380.49,479.70 376.50,481.10 376.59,476.87 374.03,473.50 378.08,472.28" fill="#9a9030" stroke="#4a4a18" stroke-width="0.8" stroke-linejoin="miter"/>
<circle cx="380.49" cy="475.6" r="3.9" fill="#d4d050"/>
<circle cx="380.49" cy="475.6" r="1.8" fill="#b8b048"/>
<text x="387.99" y="479.5" font-size="9.6">6:02am</text>
<polygon points="457.11,468.80 459.52,472.28 463.58,473.50 461.01,476.87 461.11,481.10 457.11,479.70 453.12,481.10 453.22,476.87 450.65,473.50 454.70,472.28" fill="#9a9030" stroke="#4a4a18" stroke-width="0.8" stroke-linejoin="miter"/>
<circle cx="457.11" cy="475.6" r="3.9" fill="#d4d050"/>
<circle cx="457.11" cy="475.6" r="1.8" fill="#b8b048"/>
<text x="464.61" y="479.5" font-size="9.6">6:03am</text>
<polygon points="533.74,468.80 536.15,472.28 540.20,473.50 537.64,476.87 537.73,481.10 533.74,479.70 529.74,481.10 529.84,476.87 527.27,473.50 531.33,472.28" fill="#9a9030" stroke="#4a4a18" stroke-width="0.8" stroke-linejoin="miter"/>
<circle cx="533.74" cy="475.6" r="3.9" fill="#d4d050"/>
<circle cx="533.74" cy="475.6" r="1.8" fill="#b8b048"/>
<text x="541.24" y="479.5" font-size="9.6">6:04am</text>
<polygon points="610.36,468.80 612.77,472.28 616.83,473.50 614.26,476.87 614.36,481.10 610.36,479.70 606.36,481.10 606.46,476.87 603.89,473.50 607.95,472.28" fill="#9a9030" stroke="#4a4a18" stroke-width="0.8" stroke-linejoin="miter"/>
<circle cx="610.36" cy="475.6" r="3.9" fill="#d4d050"/>
<circle cx="610.36" cy="475.6" r="1.8" fill="#b8b048"/>
<text x="617.86" y="479.5" font-size="9.6">6:05am</text>
<polygon points="686.98,468.80 689.39,472.28 693.45,473.50 690.88,476.87 690.98,481.10 686.98,479.70 682.98,481.10 683.08,476.87 680.51,473.50 684.57,472.28" fill="#9a9030" stroke="#4a4a18" stroke-width="0.8" stroke-linejoin="miter"/>
<circle cx="686.98" cy="475.6" r="3.9" fill="#d4d050"/>
<circle cx="686.98" cy="475.6" r="1.8" fill="#b8b048"/>
<text x="694.48" y="479.5" font-size="9.6">6:06am</text>
<polygon points="119.20,482.60 121.61,486.08 125.67,487.30 123.10,490.67 123.20,494.90 119.20,493.50 115.21,494.90 115.30,490.67 112.74,487.30 116.79,486.08" fill="#8a6a28" stroke="#404018" stroke-width="0.8" stroke-linejoin="miter"/>
<circle cx="119.20" cy="489.4" r="3.8" fill="#dc8840"/>
<path d="M122.50,487.80 A3.8,3.8 0 0 1 117.70,492.90" fill="none" stroke="#e83030" stroke-width="1.2"/>
<text x="126.70" y="493.2" font-size="9.6">8:08pm</text>
<polygon points="195.77,482.60 198.18,486.08 202.24,487.30 199.67,490.67 199.77,494.90 195.77,493.50 191.77,494.90 191.87,490.67 189.30,487.30 193.36,486.08" fill="#8a6a28" stroke="#404018" stroke-width="0.8" stroke-linejoin="miter"/>
<circle cx="195.77" cy="489.4" r="3.8" fill="#dc8840"/>
<path d="M199.07,487.80 A3.8,3.8 0 0 1 194.27,492.90" fill="none" stroke="#e83030" stroke-width="1.2"/>
<text x="203.27" y="493.2" font-size="9.6">8:08pm</text>
<polygon points="272.34,482.60 274.75,486.08 278.81,487.30 276.24,490.67 276.34,494.90 272.34,493.50 268.34,494.90 268.44,490.67 265.87,487.30 269.93,486.08" fill="#8a6a28" stroke="#404018" stroke-width="0.8" stroke-linejoin="miter"/>
<circle cx="272.34" cy="489.4" r="3.8" fill="#dc8840"/>
<path d="M275.64,487.80 A3.8,3.8 0 0 1 270.84,492.90" fill="none" stroke="#e83030" stroke-width="1.2"/>
<text x="279.84" y="493.2" font-size="9.6">8:08pm</text>
<polygon points="348.86,482.60 351.27,486.08 355.32,487.30 352.75,490.67 352.85,494.90 348.86,493.50 344.86,494.90 344.96,490.67 342.39,487.30 346.45,486.08" fill="#8a6a28" stroke="#404018" stroke-width="0.8" stroke-linejoin="miter"/>
<circle cx="348.86" cy="489.4" r="3.8" fill="#dc8840"/>
<path d="M352.16,487.80 A3.8,3.8 0 0 1 347.36,492.90" fill="none" stroke="#e83030" stroke-width="1.2"/>
<text x="356.36" y="493.2" font-size="9.6">8:07pm</text>
<polygon points="425.42,482.60 427.83,486.08 431.89,487.30 429.32,490.67 429.42,494.90 425.42,493.50 421.43,494.90 421.52,490.67 418.96,487.30 423.01,486.08" fill="#8a6a28" stroke="#404018" stroke-width="0.8" stroke-linejoin="miter"/>
<circle cx="425.42" cy="489.4" r="3.8" fill="#dc8840"/>
<path d="M428.72,487.80 A3.8,3.8 0 0 1 423.92,492.90" fill="none" stroke="#e83030" stroke-width="1.2"/>
<text x="432.92" y="493.2" font-size="9.6">8:07pm</text>
<polygon points="501.99,482.60 504.40,486.08 508.46,487.30 505.89,490.67 505.99,494.90 501.99,493.50 498.00,494.90 498.09,490.67 495.53,487.30 499.58,486.08" fill="#8a6a28" stroke="#404018" stroke-width="0.8" stroke-linejoin="miter"/>
<circle cx="501.99" cy="489.4" r="3.8" fill="#dc8840"/>
<path d="M505.29,487.80 A3.8,3.8 0 0 1 500.49,492.90" fill="none" stroke="#e83030" stroke-width="1.2"/>
<text x="509.49" y="493.2" font-size="9.6">8:07pm</text>
<polygon points="578.51,482.60 580.92,486.08 584.98,487.30 582.41,490.67 582.51,494.90 578.51,493.50 574.51,494.90 574.61,490.67 572.04,487.30 576.10,486.08" fill="#8a6a28" stroke="#404018" stroke-width="0.8" stroke-linejoin="miter"/>
<circle cx="578.51" cy="489.4" r="3.8" fill="#dc8840"/>
<path d="M581.81,487.80 A3.8,3.8 0 0 1 577.01,492.90" fill="none" stroke="#e83030" stroke-width="1.2"/>
<text x="586.01" y="493.2" font-size="9.6">8:06pm</text>
<polygon points="655.08,482.60 657.49,486.08 661.54,487.30 658.98,490.67 659.07,494.90 655.08,493.50 651.08,494.90 651.18,490.67 648.61,487.30 652.67,486.08" fill="#8a6a28" stroke="#404018" stroke-width="0.8" stroke-linejoin="miter"/>
<circle cx="655.08" cy="489.4" r="3.8" fill="#dc8840"/>
<path d="M658.38,487.80 A3.8,3.8 0 0 1 653.58,492.90" fill="none" stroke="#e83030" stroke-width="1.2"/>
<text x="662.58" y="493.2" font-size="9.6">8:06pm</text>
<circle cx="133.77" cy="502.9" r="5" fill="#ffffcc" stroke="#6a6a6a" stroke-width="0.9"/>
<text x="141.77" y="506.4" font-size="9.6">12:42am</text>
<circle cx="211.99" cy="502.9" r="5" fill="#ffffcc" stroke="#6a6a6a" stroke-width="0.9"/>
<text x="219.99" y="506.4" font-size="9.6">1:13am</text>
<circle cx="290.52" cy="502.9" r="5" fill="#ffffcc" stroke="#6a6a6a" stroke-width="0.9"/>
<text x="298.52" y="506.4" font-size="9.6">1:50am</text>
<circle cx="369.54" cy="502.9" r="5" fill="#ffffcc" stroke="#6a6a6a" stroke-width="0.9"/>
<text x="377.54" y="506.4" font-size="9.6">2:36am</text>
<circle cx="449.09" cy="502.9" r="5" fill="#ffffcc" stroke="#6a6a6a" stroke-width="0.9"/>
<text x="457.09" y="506.4" font-size="9.6">3:32am</text>
<circle cx="529.22" cy="502.9" r="5" fill="#ffffcc" stroke="#6a6a6a" stroke-width="0.9"/>
<text x="537.22" y="506.4" font-size="9.6">4:39am</text>
<circle cx="609.77" cy="502.9" r="5" fill="#ffffcc" stroke="#6a6a6a" stroke-width="0.9"/>
<text x="617.77" y="506.4" font-size="9.6">5:54am</text>
<circle cx="690.44" cy="502.9" r="5" fill="#ffffcc" stroke="#6a6a6a" stroke-width="0.9"/>
<text x="698.44" y="506.4" font-size="9.6">7:11am</text>
<circle cx="177.00" cy="516.5" r="5" fill="#c0c0b8" stroke="#606060" stroke-width="0.9"/>
<text x="185.00" y="520" font-size="9.6">2:15pm</text>
<circle cx="257.13" cy="516.5" r="5" fill="#c0c0b8" stroke="#606060" stroke-width="0.9"/>
<text x="265.13" y="520" font-size="9.6">3:22pm</text>
<circle cx="337.42" cy="516.5" r="5" fill="#c0c0b8" stroke="#606060" stroke-width="0.9"/>
<text x="345.42" y="520" font-size="9.6">4:32pm</text>
<circle cx="417.82" cy="516.5" r="5" fill="#c0c0b8" stroke="#606060" stroke-width="0.9"/>
<text x="425.82" y="520" font-size="9.6">5:44pm</text>
<circle cx="498.06" cy="516.5" r="5" fill="#c0c0b8" stroke="#606060" stroke-width="0.9"/>
<text x="506.06" y="520" font-size="9.6">6:53pm</text>
<circle cx="577.92" cy="516.5" r="5" fill="#c0c0b8" stroke="#606060" stroke-width="0.9"/>
<text x="585.92" y="520" font-size="9.6">7:55pm</text>
<circle cx="657.26" cy="516.5" r="5" fill="#c0c0b8" stroke="#606060" stroke-width="0.9"/>
<text x="665.26" y="520" font-size="9.6">8:47pm</text>
<text x="41.3" y="534.1" font-size="9.5">Last Quarter | 1:13pm</text>
<text x="568.2" y="534.1" font-size="9.5">New Moon | 7:55am</text>
</svg></body></html>
